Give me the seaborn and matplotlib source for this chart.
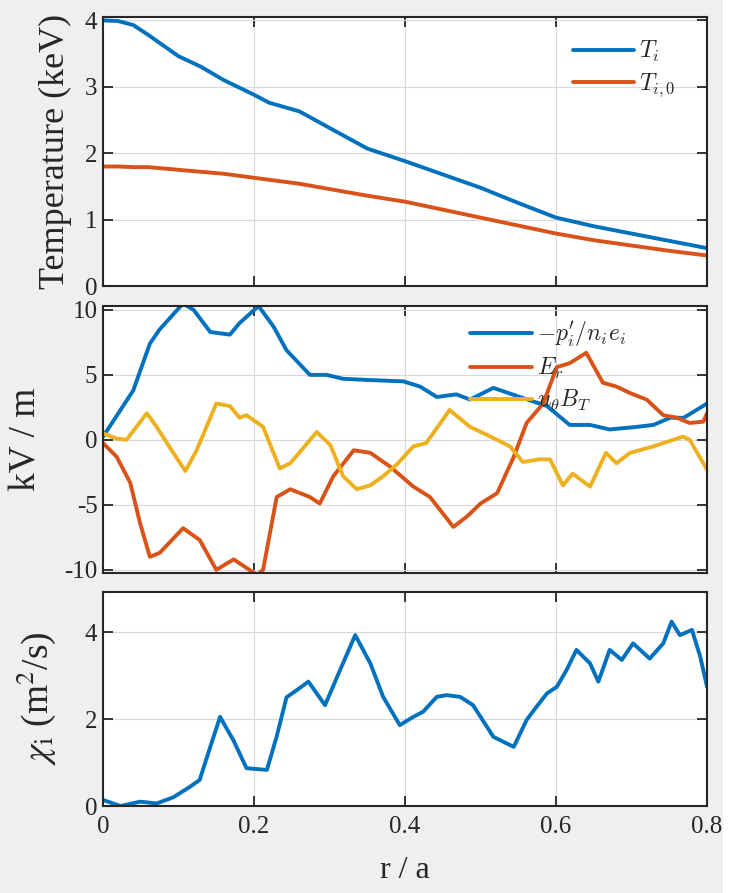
import numpy as np
import pandas as pd
import seaborn as sns
import matplotlib.pyplot as plt
from matplotlib.patches import Rectangle

# ---- data ----
# panel 1: temperature profiles
r_T = [0.0, 0.02, 0.04, 0.06, 0.08, 0.10, 0.13, 0.16, 0.20, 0.22, 0.26, 0.30, 0.35,
       0.40, 0.45, 0.50, 0.55, 0.60, 0.65, 0.70, 0.75, 0.80]
Ti = [4.00, 3.99, 3.93, 3.78, 3.62, 3.46, 3.30, 3.10, 2.88, 2.76, 2.63, 2.38, 2.07,
      1.88, 1.68, 1.48, 1.25, 1.03, 0.90, 0.79, 0.68, 0.57]
Ti0 = [1.80, 1.80, 1.79, 1.79, 1.77, 1.75, 1.72, 1.69, 1.63, 1.60, 1.54, 1.46, 1.36,
       1.27, 1.15, 1.03, 0.91, 0.79, 0.69, 0.61, 0.53, 0.46]

# panel 2: radial force balance terms (kV/m)
r_p = [0.0, 0.04, 0.062, 0.075, 0.106, 0.12, 0.142, 0.168, 0.181, 0.206, 0.226, 0.243,
       0.274, 0.296, 0.318, 0.354, 0.398, 0.42, 0.442, 0.468, 0.486, 0.517, 0.552,
       0.588, 0.618, 0.645, 0.671, 0.707, 0.729, 0.751, 0.769, 0.786, 0.80]
grad_p = [0.25, 3.8, 7.4, 8.5, 10.5, 10.0, 8.3, 8.1, 9.0, 10.3, 8.7, 6.9,
          5.0, 5.0, 4.7, 4.6, 4.5, 4.1, 3.3, 3.5, 3.1, 4.0, 3.3,
          2.6, 1.15, 1.15, 0.8, 1.0, 1.15, 1.7, 1.7, 2.3, 2.8]

r_E = [0.0, 0.018, 0.036, 0.049, 0.062, 0.075, 0.106, 0.128, 0.15, 0.173, 0.186, 0.204,
       0.212, 0.23, 0.248, 0.274, 0.287, 0.305, 0.332, 0.354, 0.38, 0.411, 0.433, 0.464,
       0.482, 0.50, 0.522, 0.544, 0.561, 0.583, 0.601, 0.618, 0.64, 0.662, 0.68, 0.698,
       0.72, 0.742, 0.76, 0.777, 0.795, 0.80]
Er = [-0.25, -1.3, -3.3, -6.4, -9.0, -8.7, -6.8, -7.7, -10.0, -9.2, -9.7, -10.4,
      -10.0, -4.4, -3.8, -4.4, -4.9, -2.8, -0.8, -1.0, -2.05, -3.6, -4.4, -6.7,
      -5.9, -4.9, -4.1, -1.3, 1.3, 2.8, 5.6, 5.9, 6.7, 4.4, 4.1, 3.6,
      3.1, 1.9, 1.7, 1.3, 1.4, 2.05]

r_u = [0.0, 0.018, 0.031, 0.058, 0.071, 0.093, 0.109, 0.124, 0.15, 0.168, 0.181, 0.19,
       0.212, 0.234, 0.248, 0.283, 0.301, 0.318, 0.336, 0.354, 0.371, 0.389, 0.411,
       0.428, 0.459, 0.486, 0.508, 0.539, 0.556, 0.578, 0.592, 0.609, 0.622, 0.645,
       0.666, 0.68, 0.698, 0.729, 0.768, 0.777, 0.80]
uB = [0.5, 0.1, 0.0, 2.05, 1.0, -1.0, -2.4, -0.8, 2.8, 2.6, 1.7, 1.9,
      1.0, -2.2, -1.8, 0.6, -0.4, -2.8, -3.8, -3.5, -2.8, -1.9, -0.5,
      -0.25, 2.3, 1.0, 0.4, -0.5, -1.7, -1.5, -1.5, -3.5, -2.6, -3.6,
      -1.0, -1.8, -1.0, -0.5, 0.25, 0.0, -2.3]

# panel 3: ion heat diffusivity
r_chi = [0.0, 0.023, 0.049, 0.071, 0.093, 0.115, 0.128, 0.142, 0.155, 0.173, 0.19, 0.217,
         0.23, 0.243, 0.257, 0.272, 0.294, 0.314, 0.334, 0.354, 0.371, 0.393, 0.411,
         0.424, 0.442, 0.455, 0.473, 0.49, 0.517, 0.544, 0.561, 0.574, 0.588, 0.601,
         0.614, 0.627, 0.645, 0.656, 0.671, 0.687, 0.702, 0.724, 0.742, 0.753, 0.764,
         0.78, 0.791, 0.80]
chi = [0.14, 0.0, 0.1, 0.06, 0.2, 0.44, 0.6, 1.36, 2.05, 1.5, 0.87, 0.83,
       1.6, 2.5, 2.67, 2.86, 2.32, 3.13, 3.93, 3.28, 2.51, 1.86, 2.05,
       2.17, 2.51, 2.55, 2.51, 2.32, 1.59, 1.36, 1.98, 2.28, 2.59, 2.74,
       3.13, 3.59, 3.28, 2.86, 3.59, 3.36, 3.74, 3.39, 3.74, 4.24, 3.93,
       4.05, 3.43, 2.74]

x_ticks = [0, 0.2, 0.4, 0.6, 0.8]
x_ticklabels = ['0', '0.2', '0.4', '0.6', '0.8']

blue, orange, yellow = '#0072BD', '#D95319', '#EDB120'

sns.set_style('ticks')
plt.rcParams['font.family'] = ['Liberation Serif', 'DejaVu Serif']
plt.rcParams['mathtext.fontset'] = 'cm'
plt.rcParams['axes.unicode_minus'] = False

fig = plt.figure(figsize=(7.36, 8.93), dpi=100, facecolor='#efeff1')
ax1 = fig.add_axes([0.140, 0.6797, 0.8207, 0.3012])
ax2 = fig.add_axes([0.140, 0.3583, 0.8207, 0.2990])
ax3 = fig.add_axes([0.140, 0.0974, 0.8207, 0.2396])

lw = 2.8
sns.lineplot(x=r_T, y=Ti, ax=ax1, color=blue, lw=lw, label=r'$T_i$')
sns.lineplot(x=r_T, y=Ti0, ax=ax1, color=orange, lw=lw, label=r'$T_{i,0}$')

sns.lineplot(x=r_p, y=grad_p, ax=ax2, color=blue, lw=lw, label=r"$-p_i'/n_ie_i$")
sns.lineplot(x=r_E, y=Er, ax=ax2, color=orange, lw=lw, label=r'$E_r$')
sns.lineplot(x=r_u, y=uB, ax=ax2, color=yellow, lw=lw, label=r'$u_\theta B_T$')

sns.lineplot(x=r_chi, y=chi, ax=ax3, color=blue, lw=lw, legend=False)

for ax in (ax1, ax2, ax3):
    ax.set_facecolor('white')
    ax.set_xlim(0, 0.8)
    ax.set_xticks(x_ticks)
    ax.grid(True, color='#d9d9d9', lw=0.8)
    ax.tick_params(direction='in', length=7, width=1.3, top=True, right=True,
                   labelsize=18, colors='#262626', pad=4)
    ax.tick_params(axis='x', pad=7)
    for s in ax.spines.values():
        s.set_color('#262626')
        s.set_linewidth(1.5)
    ax.set_xlabel('')

ax1.set_xticklabels([])
ax2.set_xticklabels([])
ax3.set_xticklabels(x_ticklabels)

ax1.set_ylim(0, 4.05)
ax1.set_yticks([0, 1, 2, 3, 4])
ax2.set_ylim(-10.25, 10.3)
ax2.set_yticks([-10, -5, 0, 5, 10])
ax3.set_ylim(0, 4.92)
ax3.set_yticks([0, 2, 4])

ax1.set_ylabel('Temperature (keV)', fontsize=26, color='#262626')
ax1.yaxis.set_label_coords(-0.051, 0.5)
ax2.set_ylabel('kV / m', fontsize=27, color='#262626')
ax2.yaxis.set_label_coords(-0.098, 0.5)
ax3.set_ylabel(r'$\chi_\mathrm{i}$ (m$^2$/s)', fontsize=27, color='#262626',
               math_fontfamily='stix')
ax3.yaxis.set_label_coords(-0.075, 0.5)
ax3.set_xlabel('r / a', fontsize=23, color='#262626', labelpad=13)

ax1.legend(loc='upper left', bbox_to_anchor=(0.743, 0.996), frameon=False,
           fontsize=17, handlelength=2.6, labelspacing=0.3, handletextpad=0.2)
ax2.legend(loc='upper left', bbox_to_anchor=(0.573, 1.027), frameon=False,
           fontsize=17, handlelength=2.6, labelspacing=0.3, handletextpad=0.2)

# the source image is cropped with a white strip on the right edge
fig.add_artist(Rectangle((723 / 736, 0), 13 / 736, 1, transform=fig.transFigure,
                         facecolor='white', edgecolor='none', zorder=10))

fig.savefig('out.png', dpi=100, facecolor=fig.get_facecolor())
